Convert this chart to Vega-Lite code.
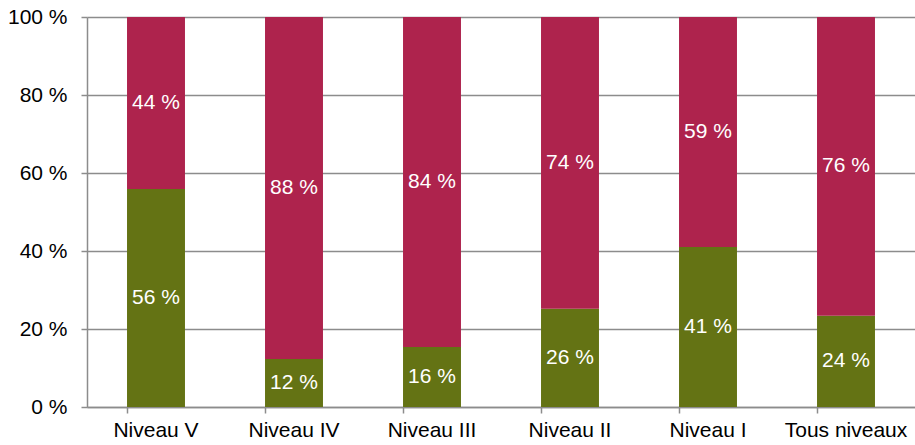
{
  "$schema": "https://vega.github.io/schema/vega-lite/v6.json",
  "width": 828,
  "height": 390,
  "autosize": {"type": "none"},
  "padding": {"left": 87, "top": 17, "right": 0, "bottom": 38},
  "background": "white",
  "config": {
    "view": {"stroke": null},
    "font": "Liberation Sans",
    "axis": {"labelFont": "Liberation Sans", "labelFontSize": 21, "labelColor": "#000000"}
  },
  "data": {
    "values": [
      {"niveau": "Niveau V", "serie": "a", "ordre": 1, "valeur": 55.9, "etiquette": "56 %"},
      {"niveau": "Niveau V", "serie": "b", "ordre": 2, "valeur": 44.1, "etiquette": "44 %"},
      {"niveau": "Niveau IV", "serie": "a", "ordre": 1, "valeur": 12.3, "etiquette": "12 %"},
      {"niveau": "Niveau IV", "serie": "b", "ordre": 2, "valeur": 87.7, "etiquette": "88 %"},
      {"niveau": "Niveau III", "serie": "a", "ordre": 1, "valeur": 15.4, "etiquette": "16 %"},
      {"niveau": "Niveau III", "serie": "b", "ordre": 2, "valeur": 84.6, "etiquette": "84 %"},
      {"niveau": "Niveau II", "serie": "a", "ordre": 1, "valeur": 25.2, "etiquette": "26 %"},
      {"niveau": "Niveau II", "serie": "b", "ordre": 2, "valeur": 74.8, "etiquette": "74 %"},
      {"niveau": "Niveau I", "serie": "a", "ordre": 1, "valeur": 41.0, "etiquette": "41 %"},
      {"niveau": "Niveau I", "serie": "b", "ordre": 2, "valeur": 59.0, "etiquette": "59 %"},
      {"niveau": "Tous niveaux", "serie": "a", "ordre": 1, "valeur": 23.4, "etiquette": "24 %"},
      {"niveau": "Tous niveaux", "serie": "b", "ordre": 2, "valeur": 76.6, "etiquette": "76 %"}
    ]
  },
  "transform": [
    {"stack": "valeur", "groupby": ["niveau"], "sort": [{"field": "ordre", "order": "ascending"}], "as": ["bas", "haut"]},
    {"calculate": "(datum.bas + datum.haut) / 2", "as": "milieu"}
  ],
  "encoding": {
    "x": {
      "field": "niveau",
      "type": "nominal",
      "sort": null,
      "scale": {"paddingInner": 0.58, "paddingOuter": 0.29},
      "axis": {
        "title": null,
        "labelAngle": 0,
        "bandPosition": 0,
        "domainColor": "#8c8c8c",
        "domainWidth": 1.5,
        "tickColor": "#8c8c8c",
        "tickWidth": 1.5,
        "tickSize": 6,
        "labelPadding": 6,
        "grid": false
      }
    }
  },
  "layer": [
    {
      "mark": {"type": "bar", "stroke": null},
      "encoding": {
        "y": {
          "field": "bas",
          "type": "quantitative",
          "scale": {"domain": [0, 100], "nice": false},
          "axis": {
            "title": null,
            "values": [0, 20, 40, 60, 80, 100],
            "labelExpr": "datum.value + ' %'",
            "grid": true,
            "gridColor": "#8c8c8c",
            "gridWidth": 1.5,
            "domainColor": "#8c8c8c",
            "domainWidth": 1.5,
            "tickColor": "#8c8c8c",
            "tickWidth": 1.5,
            "tickSize": 6,
            "labelPadding": 14
          }
        },
        "y2": {"field": "haut"},
        "color": {
          "field": "serie",
          "type": "nominal",
          "scale": {"domain": ["a", "b"], "range": ["#647314", "#AE234D"]},
          "legend": null
        }
      }
    },
    {
      "mark": {"type": "text", "color": "white", "fontSize": 21, "font": "Liberation Sans", "baseline": "middle"},
      "encoding": {
        "y": {"field": "milieu", "type": "quantitative"},
        "text": {"field": "etiquette"}
      }
    }
  ]
}
